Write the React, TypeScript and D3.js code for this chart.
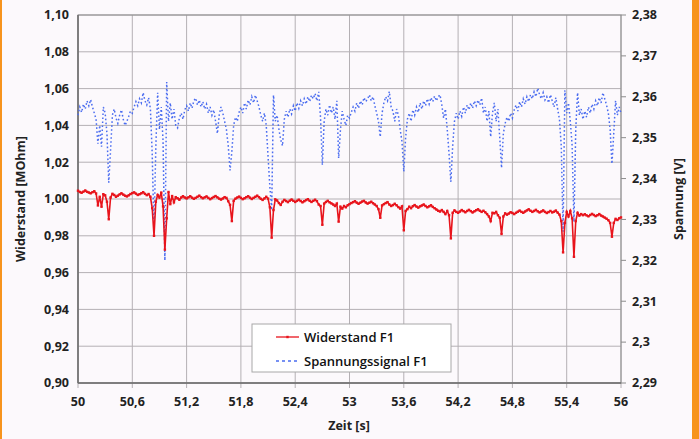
import React from 'react'
import * as d3 from 'd3'

// Messwerte, Abtastung alle 0,02 s ab 50 s
const startZeit = 50
const schritt = 0.02

const widerstand = [
  1.0045, 1.0038, 1.0034, 1.004, 1.0046, 1.0039, 1.0035, 1.0031, 1.0037, 1.0042,
  1.003, 0.9965, 1.0012, 0.9958, 1.0026, 1.002, 0.9985, 0.989, 1.0008, 1.0028,
  1.0022, 1.0012, 1.0018, 1.0025, 1.0031, 1.0024, 1.0018, 1.0014, 1.002, 1.0027,
  1.0032, 1.0036, 1.0029, 1.0022, 1.0026, 1.0031, 1.0037, 1.0028, 1.0021, 1.0027,
  1.0012, 0.995, 0.98, 0.9985, 1.0022, 1.0008, 1.0035, 0.996, 0.9725, 0.9895,
  1.0038, 0.9972, 1.0016, 0.9982, 1.001, 1.0004, 0.9996, 1.0008, 1.0015, 1.0008,
  1.0003, 1.0009, 1.0015, 1.0007, 1.0001, 1.0006, 1.0012, 1.0018, 1.001, 1.0004,
  1.0009, 1.0014, 1.0006, 0.9999, 1.0005, 1.0011, 1.0016, 1.0009, 1.0002, 0.9997,
  1.0003, 1.001, 1.0006, 0.9988, 0.9968, 0.988, 0.999, 1.0002, 1.0008, 1.0013,
  1.0006, 0.9999, 1.0004, 1.001, 1.0015, 1.0007, 1.0, 1.0006, 1.0012, 1.0018,
  1.001, 1.0001, 0.9995, 1.0003, 1.0012, 1.0002, 0.9955, 0.979, 0.994, 0.9998,
  0.9992, 0.9978, 0.9968, 0.9985, 0.9995, 0.9989, 0.9983, 0.9991, 0.9997, 0.999,
  0.9984, 0.999, 0.9996, 0.9989, 0.9982, 0.9988, 0.9994, 0.9999, 0.999, 0.9984,
  0.999, 0.9996, 0.9988, 0.997, 0.9962, 0.986, 0.9975, 0.9984, 0.999, 0.9982,
  0.9976, 0.997, 0.9962, 0.9975, 0.9877, 0.9958, 0.9948, 0.9962, 0.9955, 0.9966,
  0.9972, 0.9978, 0.9983, 0.9988, 0.998, 0.9974, 0.998, 0.9986, 0.999, 0.9981,
  0.9975, 0.998, 0.9985, 0.9977, 0.997, 0.9962, 0.9945, 0.9898, 0.9965, 0.9972,
  0.9978, 0.9983, 0.997, 0.9962, 0.9967, 0.9974, 0.9966, 0.9956, 0.9948, 0.996,
  0.983, 0.9935, 0.9945, 0.9958, 0.995, 0.9961, 0.9967, 0.9959, 0.9953, 0.996,
  0.9965, 0.997, 0.9962, 0.9955, 0.996, 0.9966, 0.9957, 0.995, 0.9943, 0.9936,
  0.9932, 0.994, 0.993, 0.9918, 0.9935, 0.9912, 0.9786, 0.9925, 0.9938, 0.993,
  0.9925, 0.9932, 0.994, 0.9934, 0.9928, 0.9935, 0.9941, 0.9934, 0.9927, 0.9933,
  0.9939, 0.9944, 0.9936, 0.993, 0.9936, 0.9928, 0.9918, 0.9905, 0.988, 0.9925,
  0.9922, 0.993, 0.9912, 0.9898, 0.981, 0.9905, 0.9922, 0.9915, 0.9921, 0.9928,
  0.9924, 0.9918, 0.9925, 0.9931, 0.9937, 0.993, 0.9925, 0.9932, 0.9938, 0.9944,
  0.9936, 0.993, 0.9935, 0.9941, 0.9933, 0.9927, 0.9932, 0.9938, 0.993, 0.9924,
  0.9929, 0.9935, 0.9927, 0.9931, 0.9937, 0.9926, 0.9915, 0.988, 0.971, 0.987,
  0.993, 0.9905, 0.9935, 0.9895, 0.9686, 0.988, 0.9925, 0.991, 0.9918, 0.9912,
  0.9917, 0.9911, 0.9906, 0.9913, 0.9919, 0.9913, 0.9907, 0.9912, 0.9918, 0.991,
  0.9905, 0.9899, 0.9893, 0.9885, 0.987, 0.9795, 0.987, 0.9892, 0.9886, 0.9895,
  0.99,
]

const spannung = [
  2.3555, 2.3575, 2.3562, 2.3582, 2.357, 2.359, 2.3578, 2.3593, 2.3575, 2.356,
  2.3545, 2.3485, 2.353, 2.3478, 2.3575, 2.356, 2.351, 2.339, 2.347, 2.3555,
  2.357, 2.3548, 2.3535, 2.3555, 2.3568, 2.3545, 2.353, 2.354, 2.3552, 2.3565,
  2.356, 2.3575, 2.3588, 2.3578, 2.3595, 2.3585, 2.361, 2.359, 2.358, 2.3598,
  2.357, 2.346, 2.327, 2.348, 2.361, 2.352, 2.3575, 2.349, 2.32, 2.3636,
  2.354, 2.3585, 2.3545, 2.357, 2.353, 2.3524, 2.3548, 2.356, 2.3545, 2.3568,
  2.3578, 2.3565, 2.3585, 2.3572, 2.359, 2.3597, 2.358, 2.3592, 2.3575, 2.3588,
  2.357, 2.3582, 2.356, 2.3575, 2.3555, 2.3568, 2.354, 2.351, 2.3555, 2.3575,
  2.356, 2.354, 2.352, 2.348, 2.342, 2.3465, 2.353, 2.355, 2.354, 2.3562,
  2.3575, 2.356, 2.3585, 2.357, 2.3592, 2.358, 2.36, 2.3585, 2.3604, 2.359,
  2.3575, 2.3555, 2.354, 2.356, 2.353, 2.3455, 2.338, 2.3323, 2.3604, 2.354,
  2.3555, 2.352, 2.3495, 2.348, 2.3545, 2.3565, 2.355, 2.357, 2.3558, 2.3578,
  2.3565, 2.3585, 2.3572, 2.359, 2.3578, 2.3595, 2.3582, 2.36, 2.3588, 2.3604,
  2.3595, 2.3608, 2.359, 2.3612, 2.355, 2.3433, 2.354, 2.357, 2.3555, 2.358,
  2.356, 2.3575, 2.3545, 2.359, 2.345, 2.352, 2.3565, 2.3545, 2.353, 2.3555,
  2.3548, 2.3562, 2.3575, 2.3565, 2.3585, 2.3572, 2.359, 2.358, 2.3598, 2.3588,
  2.3595, 2.3605, 2.359, 2.36, 2.3578, 2.356, 2.354, 2.3502, 2.356, 2.3585,
  2.36, 2.359, 2.3613, 2.3575, 2.3565, 2.354, 2.357, 2.3555, 2.352, 2.349,
  2.3417, 2.35, 2.3545, 2.356, 2.354, 2.3568, 2.3555, 2.3575, 2.3562, 2.3585,
  2.357, 2.359, 2.3578, 2.3595, 2.3582, 2.3598, 2.3588, 2.3602, 2.359, 2.36,
  2.3605, 2.358, 2.3548, 2.357, 2.352, 2.346, 2.3392, 2.348, 2.354, 2.356,
  2.3545, 2.3565, 2.3552, 2.3575, 2.356, 2.358, 2.3568, 2.3585, 2.3572, 2.359,
  2.3578, 2.3592, 2.358, 2.3597, 2.356, 2.3575, 2.354, 2.3565, 2.3502, 2.356,
  2.3585, 2.354, 2.357, 2.35, 2.3426, 2.351, 2.3535, 2.355, 2.354, 2.356,
  2.3548, 2.3568, 2.358, 2.3565, 2.3588, 2.3575, 2.3595, 2.3582, 2.36, 2.3588,
  2.3605, 2.3595, 2.3612, 2.36, 2.3621, 2.3605, 2.3595, 2.361, 2.3592, 2.36,
  2.3585, 2.3605, 2.359, 2.3575, 2.3598, 2.357, 2.3545, 2.348, 2.327, 2.3616,
  2.356, 2.3585, 2.354, 2.348, 2.3294, 2.352, 2.361, 2.3555, 2.357, 2.3545,
  2.3565, 2.355, 2.3575, 2.356, 2.3582, 2.357, 2.359, 2.3578, 2.3598, 2.3585,
  2.361, 2.3595, 2.358, 2.356, 2.352, 2.3436, 2.351, 2.359, 2.3555, 2.3575,
  2.356,
]

const zeitTicks = [50, 50.6, 51.2, 51.8, 52.4, 53, 53.6, 54.2, 54.8, 55.4, 56]
const widerstandTicks = [0.9, 0.92, 0.94, 0.96, 0.98, 1.0, 1.02, 1.04, 1.06, 1.08, 1.1]
const spannungTicks = [2.29, 2.3, 2.31, 2.32, 2.33, 2.34, 2.35, 2.36, 2.37, 2.38]

const W = 699
const H = 439
const plot = { left: 78, top: 15, right: 621, bottom: 383 }
const font = "'Open Sans', 'DejaVu Sans', sans-serif"
const rot = '#e8141c'
const blau = '#4a6cf0'

const komma = (v: number, d?: number) =>
  (d === undefined ? String(+v.toFixed(4)) : v.toFixed(d)).replace('.', ',')

export default function App() {
  const x = d3.scaleLinear().domain([50, 56]).range([plot.left, plot.right])
  const yL = d3.scaleLinear().domain([0.9, 1.1]).range([plot.bottom, plot.top])
  const yR = d3.scaleLinear().domain([2.29, 2.38]).range([plot.bottom, plot.top])

  const zeit = widerstand.map((_, i) => startZeit + i * schritt)

  const rLine = d3
    .line<number>()
    .x((_, i) => x(zeit[i]))
    .y((d) => yL(d))
  const bLine = d3
    .line<number>()
    .x((_, i) => x(zeit[i]))
    .y((d) => yR(d))

  return (
    <div style={{ position: 'fixed', left: 0, top: 0, width: W, height: H }}>
      <svg width={W} height={H} style={{ display: 'block', fontFamily: font }}>
        <rect x={0} y={0} width={W} height={H} fill="#fcf9fc" />
        <rect x={0} y={0} width={2} height={H} fill="#f7941d" />
        <rect x={692} y={0} width={7} height={H} fill="#f7941d" />

        {/* Gitter */}
        {widerstandTicks.map((t) => (
          <line key={'h' + t} x1={plot.left} x2={plot.right} y1={yL(t)} y2={yL(t)} stroke="#b4b0b4" strokeWidth={1} />
        ))}
        {zeitTicks.map((t) => (
          <line key={'v' + t} x1={x(t)} x2={x(t)} y1={plot.top} y2={plot.bottom + 5} stroke="#b4b0b4" strokeWidth={1} />
        ))}
        <rect x={plot.left} y={plot.top} width={plot.right - plot.left} height={plot.bottom - plot.top} fill="none" stroke="#8c8c8c" strokeWidth={1} />
        <line x1={plot.left} x2={plot.left} y1={plot.top} y2={plot.bottom} stroke="#6e6e6e" strokeWidth={1.5} />
        <line x1={plot.left} x2={plot.right} y1={plot.bottom} y2={plot.bottom} stroke="#6e6e6e" strokeWidth={1.5} />
        {spannungTicks.map((t) => (
          <line key={'rt' + t} x1={plot.right} x2={plot.right + 5} y1={yR(t)} y2={yR(t)} stroke="#8c8c8c" />
        ))}

        {/* Daten */}
        <path d={bLine(spannung) || ''} fill="none" stroke={blau} strokeWidth={1.5} strokeDasharray="1.6,2.4" />
        <path d={rLine(widerstand) || ''} fill="none" stroke={rot} strokeWidth={1.6} />
        {widerstand.map((d, i) => (
          <rect key={'m' + i} x={x(zeit[i]) - 1.2} y={yL(d) - 1.2} width={2.4} height={2.4} fill={rot} />
        ))}

        {/* Achsenbeschriftung */}
        {widerstandTicks.map((t) => (
          <text key={'lt' + t} x={69} y={yL(t)} dy="0.35em" textAnchor="end" fontSize={12.5} fontWeight="bold" fill="#222">
            {komma(t, 2)}
          </text>
        ))}
        {spannungTicks.map((t) => (
          <text key={'rl' + t} x={632} y={yR(t)} dy="0.35em" textAnchor="start" fontSize={12.5} fontWeight="bold" fill="#222">
            {komma(t)}
          </text>
        ))}
        {zeitTicks.map((t) => (
          <text key={'xl' + t} x={x(t)} y={406} textAnchor="middle" fontSize={12.5} fontWeight="bold" fill="#222">
            {komma(t)}
          </text>
        ))}
        <text x={349} y={430} textAnchor="middle" fontSize={12.5} fontWeight="bold" fill="#222">
          Zeit [s]
        </text>
        <text transform={`translate(25,${(plot.top + plot.bottom) / 2}) rotate(-90)`} textAnchor="middle" fontSize={12.5} fontWeight="bold" fill="#222">
          Widerstand [MOhm]
        </text>
        <text transform={`translate(683,${(plot.top + plot.bottom) / 2}) rotate(-90)`} textAnchor="middle" fontSize={12.5} fontWeight="bold" fill="#222">
          Spannung [V]
        </text>

        {/* Legende */}
        <rect x={252} y={324} width={199} height={48} fill="#ffffff" stroke="#a8a8a8" />
        <line x1={276} x2={299} y1={337} y2={337} stroke={rot} strokeWidth={1.3} />
        <rect x={286.3} y={335.8} width={2.4} height={2.4} fill={rot} />
        <text x={304} y={337} dy="0.35em" fontSize={13} fontWeight={600} fill="#111">
          Widerstand F1
        </text>
        <line x1={276} x2={299} y1={361} y2={361} stroke={blau} strokeWidth={1.3} strokeDasharray="3,3" />
        <text x={304} y={361} dy="0.35em" fontSize={13} fontWeight={600} fill="#111">
          Spannungssignal F1
        </text>
      </svg>
    </div>
  )
}
